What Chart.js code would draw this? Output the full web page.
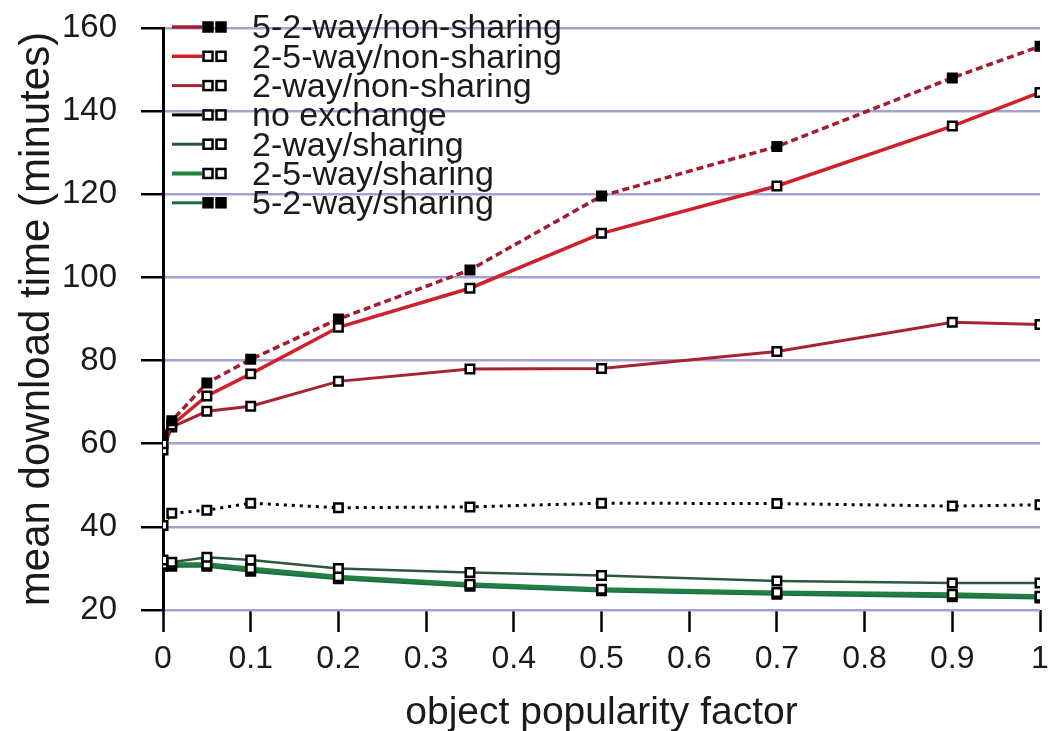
<!DOCTYPE html>
<html>
<head>
<meta charset="utf-8">
<script src="https://cdn.jsdelivr.net/npm/chart.js@4.4.1/dist/chart.umd.min.js"></script>
<style>
  body { margin: 0; background: #fff; }
</style>
</head>
<body>
<canvas id="chart" width="1050" height="731"></canvas>
<script>
var popularity = [0, 0.01, 0.05, 0.1, 0.2, 0.35, 0.5, 0.7, 0.9, 1];
var nonSharing52 = [62, 65.5, 74.6, 80.3, 90, 101.8, 119.6, 131.5, 148, 155.6];
var nonSharing25 = [60, 64.5, 71.5, 76.8, 88, 97.4, 110.6, 122, 136.4, 144.5];
var nonSharing2 = [58.5, 64, 67.8, 69, 75, 78, 78.1, 82.2, 89.2, 88.7];
var noExchange = [40.3, 43.3, 44, 45.7, 44.6, 44.8, 45.7, 45.6, 45, 45.3];
var sharing2 = [32, 31.5, 32.7, 32, 30, 29, 28.3, 27, 26.5, 26.5];
var sharing25 = [31, 31, 31, 30, 28, 26.2, 25, 24.2, 23.8, 23.3];
var sharing52 = [30.5, 30.5, 30.5, 29.3, 27.5, 25.7, 24.6, 23.8, 23.2, 22.9];
var yTicks = [20, 40, 60, 80, 100, 120, 140, 160];

function pts(values) {
    return values.map(function (v, i) { return { x: popularity[i], y: v }; });
}

var FONT = '"Liberation Sans", Arial, sans-serif';

function series(label, values, color, width, dash, filled) {
    return {
        label: label,
        data: pts(values),
        borderColor: color,
        borderWidth: width,
        borderDash: dash,
        pointStyle: 'rect',
        pointRadius: 6,
        pointBorderWidth: 2.5,
        pointBorderColor: '#000',
        pointBackgroundColor: filled ? '#000' : '#fff',
        filledMarker: filled,
        tension: 0,
        fill: false
    };
}

// legend drawn inside the plot, top-left
var plotLegend = {
    id: 'plotLegend',
    afterDatasetsDraw: function (chart) {
        var ctx = chart.ctx;
        chart.data.datasets.forEach(function (ds, i) {
            var y = 27 + i * 29.3;
            ctx.save();
            ctx.strokeStyle = ds.borderColor;
            ctx.lineWidth = Math.max(ds.borderWidth, 3);
            ctx.beginPath();
            ctx.moveTo(172, y);
            ctx.lineTo(202, y);
            ctx.stroke();
            [208, 221].forEach(function (mx) {
                ctx.fillStyle = ds.filledMarker ? '#000' : '#fff';
                ctx.strokeStyle = '#000';
                ctx.lineWidth = 2.5;
                ctx.fillRect(mx - 4.5, y - 4.5, 9, 9);
                ctx.strokeRect(mx - 4.5, y - 4.5, 9, 9);
            });
            ctx.fillStyle = '#1a1a1a';
            ctx.font = '34px ' + FONT;
            ctx.textBaseline = 'middle';
            ctx.fillText(ds.label, 252, y + 2);
            ctx.restore();
        });
    }
};

var ctx = document.getElementById('chart');
var myChart = new Chart(ctx, {
    type: 'line',
    data: {
        datasets: [
            series('5-2-way/non-sharing', nonSharing52, '#a31c30', 3.5, [7, 4], true),
            series('2-5-way/non-sharing', nonSharing25, '#d0202c', 3.5, [], false),
            series('2-way/non-sharing', nonSharing2, '#a82232', 3, [], false),
            series('no exchange', noExchange, '#000000', 3, [3, 5], false),
            series('2-way/sharing', sharing2, '#2b5a3a', 2.5, [], false),
            series('2-5-way/sharing', sharing25, '#1f8040', 4, [], false),
            series('5-2-way/sharing', sharing52, '#1b6a48', 3, [], true)
        ]
    },
    options: {
        responsive: false,
        animation: false,
        layout: { padding: { top: 28, right: 10, left: 0, bottom: 0 } },
        plugins: {
            legend: { display: false },
            tooltip: { enabled: false }
        },
        scales: {
            x: {
                type: 'linear',
                min: 0,
                max: 1,
                afterFit: function (s) {
                    s.height = 121;
                    s.paddingLeft = 0;
                    s.paddingRight = 0;
                },
                ticks: {
                    stepSize: 0.1,
                    color: '#1a1a1a',
                    padding: 8,
                    maxRotation: 0,
                    font: { family: FONT, size: 32 },
                    callback: function (v) { return String(Math.round(v * 10) / 10); }
                },
                grid: {
                    drawOnChartArea: false,
                    tickLength: 22,
                    tickColor: '#000',
                    tickWidth: 2.5
                },
                border: { display: false },
                title: {
                    display: true,
                    text: 'object popularity factor',
                    color: '#1a1a1a',
                    padding: 0,
                    font: { family: FONT, size: 39, lineHeight: 0.9 }
                }
            },
            y: {
                min: 20,
                max: 160,
                afterFit: function (s) {
                    s.width = 163;
                    s.paddingTop = 0;
                    s.paddingBottom = 0;
                },
                afterBuildTicks: function (s) {
                    s.ticks = yTicks.map(function (v) { return { value: v }; });
                },
                ticks: {
                    color: '#1a1a1a',
                    padding: 24,
                    font: { family: FONT, size: 33 }
                },
                grid: {
                    color: '#a3a3d2',
                    lineWidth: 2.5,
                    tickLength: 22,
                    tickColor: '#000',
                    tickWidth: 2.5
                },
                border: { color: '#000', width: 3 },
                title: {
                    display: true,
                    text: 'mean download time (minutes)',
                    color: '#1a1a1a',
                    padding: { top: 16 },
                    font: { family: FONT, size: 42, lineHeight: 1 }
                }
            }
        }
    },
    plugins: [plotLegend]
});
</script>
</body>
</html>
